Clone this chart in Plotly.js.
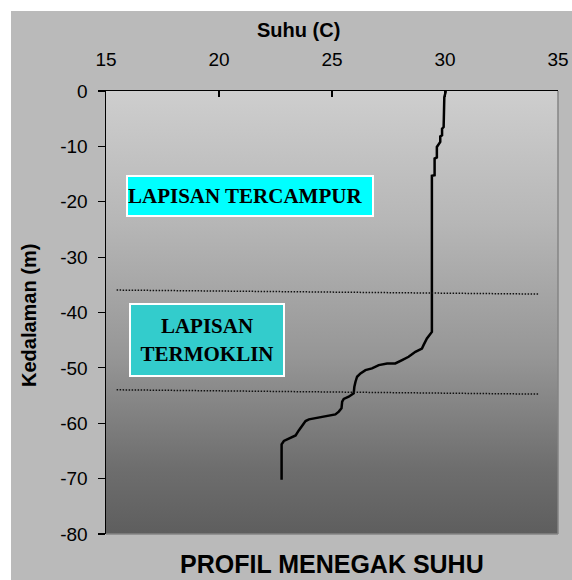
<!DOCTYPE html>
<html>
<head>
<meta charset="utf-8">
<script src="https://cdn.plot.ly/plotly-3.0.1.min.js"></script>
<style>html,body{margin:0;padding:0;background:#fff;}#chart{width:572px;height:580px;}</style>
</head>
<body>
<div id="chart"></div>
<script>
// ---- data ----
const temperature = [30.04, 29.97, 29.94, 29.87, 29.87, 29.79, 29.79, 29.64, 29.64, 29.54, 29.54, 29.42, 29.42,
  29.20, 29.05, 28.98, 28.69, 28.39, 28.10, 27.80, 27.44, 27.07, 26.77, 26.48, 26.26, 26.11, 26.04, 25.99,
  25.96, 25.74, 25.52, 25.45, 25.42, 25.30, 25.15, 24.57, 23.98, 23.83, 23.68, 23.53, 23.39, 23.17, 22.87,
  22.77, 22.77];
const depth = [0, -1.1, -6.5, -6.8, -8.0, -8.2, -9.2, -10.1, -12.0, -12.2, -15.2, -15.3, -43.5,
  -44.7, -45.9, -46.5, -47.1, -48.0, -48.6, -49.2, -49.2, -49.5, -50.1, -50.4, -51.0, -51.6, -52.5, -53.4,
  -54.6, -55.2, -55.6, -56.1, -57.3, -57.9, -58.4, -58.9, -59.3, -59.6, -60.4, -61.3, -62.2, -62.6, -63.2,
  -63.8, -70.2];
const xTicks = [15, 20, 25, 30, 35];
const yTicks = [0, -10, -20, -30, -40, -50, -60, -70, -80];
const layerLabels = ["LAPISAN TERCAMPUR", "LAPISAN<br>TERMOKLIN"];
const layerLabelPos = [[21.37, -19.0], [19.47, -44.95]];
const boundaryLines = [[15.47, -35.95, 34.13, -36.67], [15.47, -53.96, 34.13, -54.74]];
const titles = {x: "Suhu (C)", y: "Kedalaman (m)", main: "PROFIL MENEGAK SUHU"};

// ---- layout geometry ----
const WID = 572, HGT = 580, L = 106, R = 14, T = 91, B = 46;
const PW = WID - L - R, PH = HGT - T - B;
const px = v => (v - L) / PW;
const py = v => (HGT - B - v) / PH;
const sans = "Liberation Sans, Arial, sans-serif";
const serif = "Liberation Serif, Times New Roman, serif";

const grad = "<svg xmlns='http://www.w3.org/2000/svg' width='10' height='100' preserveAspectRatio='none'>" +
  "<defs><linearGradient id='g' x1='0' y1='0' x2='0' y2='1'>" +
  "<stop offset='0' stop-color='#cecece'/><stop offset='0.3' stop-color='#b6b6b6'/>" +
  "<stop offset='0.6' stop-color='#969696'/><stop offset='0.85' stop-color='#6e6e6e'/>" +
  "<stop offset='1' stop-color='#5e5e5e'/></linearGradient></defs>" +
  "<rect width='10' height='100' fill='url(#g)'/></svg>";
const gradURI = "data:image/svg+xml;charset=utf-8," + encodeURIComponent(grad);

const trace = {
  x: temperature, y: depth, type: "scatter", mode: "lines",
  line: {color: "#000", width: 2.5}, hoverinfo: "x+y", showlegend: false
};

const shapes = [
  {type: "rect", xref: "paper", yref: "paper", x0: px(0), x1: px(WID), y0: py(11), y1: py(0),
   fillcolor: "#fff", line: {width: 0}, layer: "below"},
  {type: "rect", xref: "paper", yref: "paper", x0: px(0), x1: px(11), y0: py(HGT), y1: py(0),
   fillcolor: "#fff", line: {width: 0}, layer: "below"},
  {type: "line", xref: "paper", yref: "paper", x0: 1, x1: 1, y0: 0, y1: 1, line: {color: "#858585", width: 1.5}},
  {type: "line", xref: "paper", yref: "paper", x0: 0, x1: 1, y0: 0, y1: 0, line: {color: "#858585", width: 1.5}}
];
boundaryLines.forEach(b => shapes.push({
  type: "line", xref: "x", yref: "y", x0: b[0], y0: b[1], x1: b[2], y1: b[3],
  line: {color: "#111", width: 1.5, dash: "1.5px,1.5px"}
}));

const annotations = [
  {text: titles.x, xref: "paper", yref: "paper", x: px(298), y: py(30), xanchor: "center", yanchor: "middle",
   showarrow: false, font: {family: sans, size: 20, color: "#000", weight: "bold"}},
  {text: titles.y, xref: "paper", yref: "paper", x: px(29), y: py(316), xanchor: "center", yanchor: "middle",
   textangle: -90, showarrow: false, font: {family: sans, size: 20, color: "#000", weight: "bold"}},
  {text: titles.main, xref: "paper", yref: "paper", x: px(332), y: py(564), xanchor: "center", yanchor: "middle",
   showarrow: false, font: {family: sans, size: 25, color: "#000", weight: "bold"}},
  {text: layerLabels[0], xref: "x", yref: "y", x: layerLabelPos[0][0], y: layerLabelPos[0][1],
   showarrow: false, bgcolor: "#00ffff", bordercolor: "#fff", borderwidth: 2, borderpad: 0,
   width: 244, height: 38, align: "left", valign: "middle",
   font: {family: serif, size: 21, color: "#000", weight: "bold"}},
  {text: layerLabels[1], xref: "x", yref: "y", x: layerLabelPos[1][0], y: layerLabelPos[1][1],
   showarrow: false, bgcolor: "#33cccc", bordercolor: "#fff", borderwidth: 2, borderpad: 0,
   width: 152, height: 70, align: "center", valign: "middle",
   font: {family: serif, size: 21, color: "#000", weight: "bold"}}
];

const layout = {
  width: WID, height: HGT,
  margin: {l: L, r: R, t: T, b: B, pad: 0},
  paper_bgcolor: "#bababa", plot_bgcolor: "rgba(0,0,0,0)",
  showlegend: false,
  xaxis: {range: [15, 35], side: "top", tickvals: xTicks, ticktext: xTicks.map(String),
    ticks: "inside", ticklen: 6, tickwidth: 1.2, tickcolor: "#000",
    showline: true, linecolor: "#000", linewidth: 1.5, showgrid: false, zeroline: false,
    ticklabelstandoff: 16, fixedrange: true,
    tickfont: {family: sans, size: 19, color: "#000"}},
  yaxis: {range: [-80, 0], tickvals: yTicks, ticktext: yTicks.map(String),
    ticks: "outside", ticklen: 7, tickwidth: 1.2, tickcolor: "#000",
    showline: true, linecolor: "#000", linewidth: 1.5, showgrid: false, zeroline: false,
    ticklabelstandoff: 6, fixedrange: true,
    tickfont: {family: sans, size: 19, color: "#000"}},
  images: [{source: gradURI, xref: "paper", yref: "paper", x: 0, y: 1, sizex: 1, sizey: 1,
    sizing: "stretch", xanchor: "left", yanchor: "top", layer: "below"}],
  shapes: shapes,
  annotations: annotations
};

Plotly.newPlot("chart", [trace], layout, {displayModeBar: false, staticPlot: true});
</script>
</body>
</html>
